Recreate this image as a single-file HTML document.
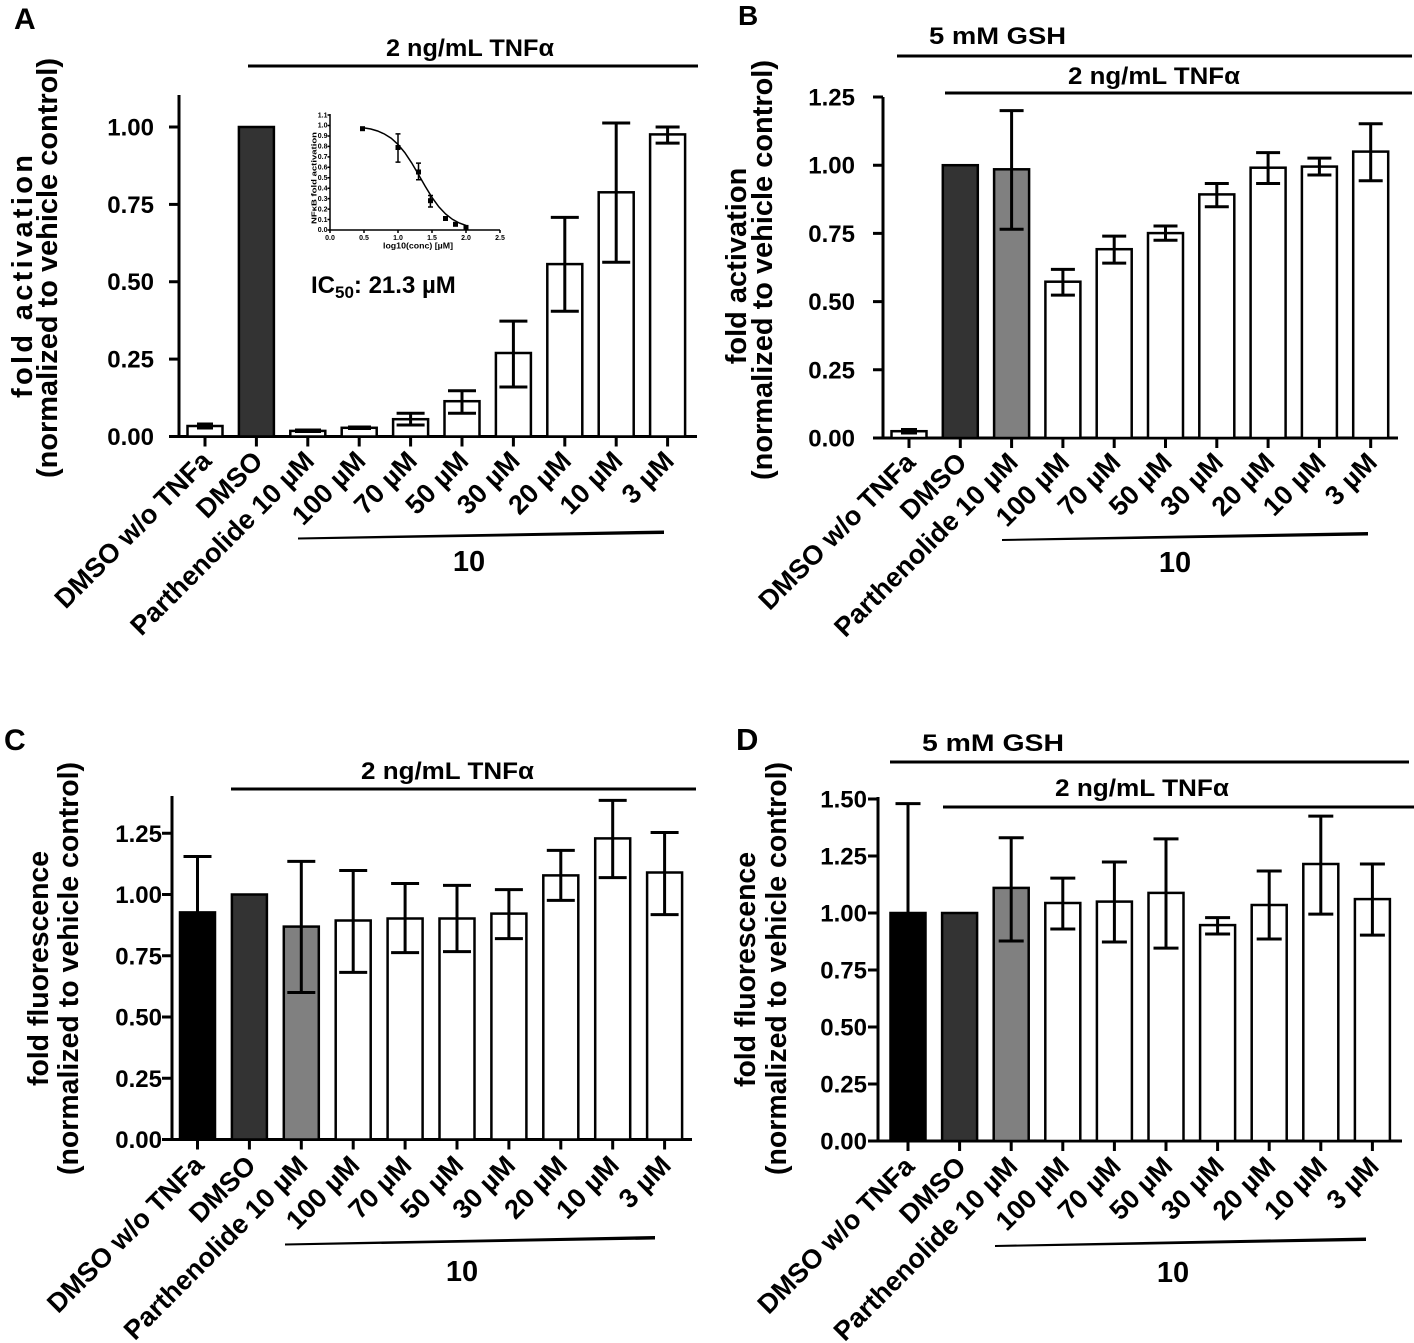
<!DOCTYPE html>
<html><head><meta charset="utf-8"><style>
html,body{margin:0;padding:0;background:#fff;}
svg{display:block;}
text{font-family:"Liberation Sans",Arial,sans-serif;font-weight:bold;fill:#000;}
.ax{stroke:#000;stroke-width:3;fill:none;}
.bar{stroke:#000;stroke-width:2.5;}
.eb{stroke:#000;stroke-width:3;fill:none;}
.tl{font-size:24px;}
.xl{font-size:27px;}
.yt{font-size:29px;}
.hd{font-size:24px;}
.in{stroke:#000;stroke-width:1.5;fill:none;}
.it{font-size:7px;}
</style></head><body>
<svg width="1414" height="1343" viewBox="0 0 1414 1343" xmlns="http://www.w3.org/2000/svg">
<rect width="1414" height="1343" fill="#fff"/>

<!-- ================= PANEL A ================= -->
<text x="14" y="29" font-size="30">A</text>
<text class="hd" x="386" y="56" textLength="168" lengthAdjust="spacingAndGlyphs">2 ng/mL TNFα</text>
<line class="ax" x1="248" y1="66" x2="698" y2="66"/>
<text class="yt" transform="translate(32,398) rotate(-90)" font-size="30" textLength="243" lengthAdjust="spacing">fold activation</text>
<text class="yt" transform="translate(57,478) rotate(-90)" textLength="420" lengthAdjust="spacingAndGlyphs">(normalized to vehicle control)</text>
<!-- axes -->
<line class="ax" x1="179" y1="95" x2="179" y2="438"/>
<line class="ax" x1="177.5" y1="436.5" x2="697" y2="436.5"/>
<g class="ax">
<line x1="169" y1="436.5" x2="179" y2="436.5"/><line x1="169" y1="359.1" x2="179" y2="359.1"/><line x1="169" y1="281.75" x2="179" y2="281.75"/><line x1="169" y1="204.4" x2="179" y2="204.4"/><line x1="169" y1="127" x2="179" y2="127"/>
</g>
<g class="tl" text-anchor="end">
<text x="154" y="445">0.00</text><text x="154" y="367.6">0.25</text><text x="154" y="290.2">0.50</text><text x="154" y="212.9">0.75</text><text x="154" y="135.5">1.00</text>
</g>
<!-- bars -->
<rect class="bar" x="187.5" y="426" width="35" height="10.5" fill="#fff"/>
<rect class="bar" x="238.9" y="127" width="35" height="309.5" fill="#333"/>
<rect class="bar" x="290.3" y="430.9" width="35" height="5.6" fill="#fff"/>
<rect class="bar" x="341.7" y="427.8" width="35" height="8.7" fill="#fff"/>
<rect class="bar" x="393.1" y="419.2" width="35" height="17.3" fill="#fff"/>
<rect class="bar" x="444.5" y="401.2" width="35" height="35.3" fill="#fff"/>
<rect class="bar" x="495.9" y="353" width="35" height="83.5" fill="#fff"/>
<rect class="bar" x="547.3" y="264.1" width="35" height="172.4" fill="#fff"/>
<rect class="bar" x="598.7" y="192.3" width="35" height="244.2" fill="#fff"/>
<rect class="bar" x="650.1" y="134.4" width="35" height="302.1" fill="#fff"/>
<!-- error bars -->
<rect x="197" y="422.5" width="16" height="7" fill="#000"/>
<rect x="295" y="428.5" width="26" height="4.5" fill="#000"/>
<rect x="348" y="425.5" width="23" height="4.5" fill="#000"/>
<g class="eb">
<path d="M410.6 413.3V425M396.6 413.3H424.6M396.6 425H424.6"/>
<path d="M462 390.7V413.3M448 390.7H476M448 413.3H476"/>
<path d="M513.4 321.1V387M499.4 321.1H527.4M499.4 387H527.4"/>
<path d="M564.8 217.4V311.2M550.8 217.4H578.8M550.8 311.2H578.8"/>
<path d="M616.2 123V262.3M602.2 123H630.2M602.2 262.3H630.2"/>
<path d="M667.6 127V143.1M655.6 127H679.6M655.6 143.1H679.6"/>
</g>
<!-- x ticks -->
<g class="ax">
<path d="M205 436.5v10M256.4 436.5v10M307.8 436.5v10M359.2 436.5v10M410.6 436.5v10M462 436.5v10M513.4 436.5v10M564.8 436.5v10M616.2 436.5v10M667.6 436.5v10"/>
</g>
<g class="xl" text-anchor="end">
<text transform="translate(213,462.5) rotate(-45)">DMSO w/o TNFa</text>
<text transform="translate(264.4,462.5) rotate(-45)">DMSO</text>
<text transform="translate(315.8,462.5) rotate(-45)">Parthenolide 10 µM</text>
<text transform="translate(367.2,462.5) rotate(-45)">100 µM</text>
<text transform="translate(418.6,462.5) rotate(-45)">70 µM</text>
<text transform="translate(470,462.5) rotate(-45)">50 µM</text>
<text transform="translate(521.4,462.5) rotate(-45)">30 µM</text>
<text transform="translate(572.8,462.5) rotate(-45)">20 µM</text>
<text transform="translate(624.2,462.5) rotate(-45)">10 µM</text>
<text transform="translate(675.6,462.5) rotate(-45)">3 µM</text>
</g>
<polygon points="298,537.5 664,530.5 664,534 298,539.5" fill="#000"/>
<text x="469" y="571" font-size="29" text-anchor="middle">10</text>

<!-- inset -->
<g>
<line class="in" x1="330" y1="114" x2="330" y2="230.5"/>
<line class="in" x1="329.3" y1="230" x2="500" y2="230"/>
<path class="in" stroke-width="1" d="M327.5 230H330M327.5 219.55H330M327.5 209.1H330M327.5 198.65H330M327.5 188.2H330M327.5 177.75H330M327.5 167.3H330M327.5 156.85H330M327.5 146.4H330M327.5 135.95H330M327.5 125.5H330M327.5 115.05H330"/>
<path class="in" stroke-width="1" d="M330 230v3M364 230v3M398 230v3M432 230v3M466 230v3M500 230v3"/>
<g class="it" text-anchor="end" font-size="6">
<text x="327.5" y="232.2">0.0</text><text x="327.5" y="221.8">0.1</text><text x="327.5" y="211.3">0.2</text><text x="327.5" y="200.9">0.3</text><text x="327.5" y="190.4">0.4</text><text x="327.5" y="180">0.5</text><text x="327.5" y="169.5">0.6</text><text x="327.5" y="159.1">0.7</text><text x="327.5" y="148.6">0.8</text><text x="327.5" y="138.2">0.9</text><text x="327.5" y="127.7">1.0</text><text x="327.5" y="117.3">1.1</text>
</g>
<g class="it" text-anchor="middle">
<text x="330" y="240">0.0</text><text x="364" y="240">0.5</text><text x="398" y="240">1.0</text><text x="432" y="240">1.5</text><text x="466" y="240">2.0</text><text x="500" y="240">2.5</text>
</g>
<text x="418" y="248.5" font-size="8.5" text-anchor="middle" font-weight="normal" textLength="70" lengthAdjust="spacingAndGlyphs">log10(conc) [µM]</text>
<text transform="translate(316.5,224) rotate(-90)" font-size="7.5" font-weight="normal" textLength="92" lengthAdjust="spacingAndGlyphs">NFκB fold activation</text>
<polyline class="in" points="362.4,127.6 370.8,129 377.6,131 384.4,134 391.2,138.2 398,144.4 404.8,152.6 411.6,162.8 418.4,174.4 425.2,186.3 432,197.4 438.8,206.8 445.6,214 452.4,219.3 459.2,223 466,225.5"/>
<g fill="#000">
<rect x="360" y="126.2" width="5" height="5"/>
<rect x="395.5" y="145" width="5" height="5"/>
<rect x="416" y="169.5" width="5" height="5"/>
<rect x="428" y="198.2" width="5" height="5"/>
<rect x="443" y="216" width="5" height="5"/>
<rect x="453" y="221.8" width="5" height="5"/>
<rect x="463.5" y="224.9" width="5" height="5"/>
</g>
<path class="in" stroke-width="1.2" d="M398 133.9V162.1M395.5 133.9H400.5M395.5 162.1H400.5M418.5 163.1V179.8M416 163.1H421M416 179.8H421M430.4 195.5V207M428 195.5H433M428 207H433"/>
</g>
<text x="311" y="293" font-size="24">IC<tspan font-size="17" dy="5">50</tspan><tspan dy="-5">: 21.3 µM</tspan></text>

<!-- ================= PANEL B ================= -->
<text x="738" y="25" font-size="28">B</text>
<text class="hd" x="929" y="44" textLength="137" lengthAdjust="spacingAndGlyphs">5 mM GSH</text>
<line class="ax" x1="897" y1="56" x2="1412" y2="56"/>
<text class="hd" x="1068" y="84" textLength="172" lengthAdjust="spacingAndGlyphs">2 ng/mL TNFα</text>
<line class="ax" x1="945" y1="93" x2="1412" y2="93"/>
<text class="yt" transform="translate(746,266) rotate(-90)" text-anchor="middle">fold activation</text>
<text class="yt" transform="translate(772,480) rotate(-90)" textLength="420" lengthAdjust="spacingAndGlyphs">(normalized to vehicle control)</text>
<line class="ax" x1="883" y1="97" x2="883" y2="439.5"/>
<line class="ax" x1="881.5" y1="438" x2="1398" y2="438"/>
<path class="ax" d="M873 438H883M873 369.8H883M873 301.6H883M873 233.4H883M873 165.2H883M873 97H883"/>
<g class="tl" text-anchor="end">
<text x="855" y="446.5">0.00</text><text x="855" y="378.3">0.25</text><text x="855" y="310.1">0.50</text><text x="855" y="241.9">0.75</text><text x="855" y="173.7">1.00</text><text x="855" y="105.5">1.25</text>
</g>
<rect class="bar" x="891.5" y="431.2" width="35" height="6.8" fill="#fff"/>
<rect class="bar" x="942.8" y="165.2" width="35" height="272.8" fill="#333"/>
<rect class="bar" x="994.1" y="169.3" width="35" height="268.7" fill="#808080"/>
<rect class="bar" x="1045.4" y="281.7" width="35" height="156.3" fill="#fff"/>
<rect class="bar" x="1096.7" y="249.2" width="35" height="188.8" fill="#fff"/>
<rect class="bar" x="1148" y="233.1" width="35" height="204.9" fill="#fff"/>
<rect class="bar" x="1199.3" y="194.4" width="35" height="243.6" fill="#fff"/>
<rect class="bar" x="1250.6" y="167.7" width="35" height="270.3" fill="#fff"/>
<rect class="bar" x="1301.9" y="166.6" width="35" height="271.4" fill="#fff"/>
<rect class="bar" x="1353.2" y="151.6" width="35" height="286.4" fill="#fff"/>
<rect x="901" y="428" width="16" height="6.5" fill="#000"/>
<g class="eb">
<path d="M1011.6 110.6V229.3M999.6 110.6H1023.6M999.6 229.3H1023.6"/>
<path d="M1062.9 269.4V295.1M1050.9 269.4H1074.9M1050.9 295.1H1074.9"/>
<path d="M1114.2 236.1V263.1M1102.2 236.1H1126.2M1102.2 263.1H1126.2"/>
<path d="M1165.5 226V240.2M1153.5 226H1177.5M1153.5 240.2H1177.5"/>
<path d="M1216.8 183.5V206.7M1204.8 183.5H1228.8M1204.8 206.7H1228.8"/>
<path d="M1268.1 152.6V183.5M1256.1 152.6H1280.1M1256.1 183.5H1280.1"/>
<path d="M1319.4 158.1V175M1307.4 158.1H1331.4M1307.4 175H1331.4"/>
<path d="M1370.7 123.7V180.7M1358.7 123.7H1382.7M1358.7 180.7H1382.7"/>
</g>
<path class="ax" d="M909 438v10M960.3 438v10M1011.6 438v10M1062.9 438v10M1114.2 438v10M1165.5 438v10M1216.8 438v10M1268.1 438v10M1319.4 438v10M1370.7 438v10"/>
<g class="xl" text-anchor="end">
<text transform="translate(917,464) rotate(-45)">DMSO w/o TNFa</text>
<text transform="translate(968.3,464) rotate(-45)">DMSO</text>
<text transform="translate(1019.6,464) rotate(-45)">Parthenolide 10 µM</text>
<text transform="translate(1070.9,464) rotate(-45)">100 µM</text>
<text transform="translate(1122.2,464) rotate(-45)">70 µM</text>
<text transform="translate(1173.5,464) rotate(-45)">50 µM</text>
<text transform="translate(1224.8,464) rotate(-45)">30 µM</text>
<text transform="translate(1276.1,464) rotate(-45)">20 µM</text>
<text transform="translate(1327.4,464) rotate(-45)">10 µM</text>
<text transform="translate(1378.7,464) rotate(-45)">3 µM</text>
</g>
<polygon points="1002,539 1368,532 1368,535.5 1002,541" fill="#000"/>
<text x="1175" y="572" font-size="29" text-anchor="middle">10</text>

<!-- ================= PANEL C ================= -->
<text x="4" y="750" font-size="30">C</text>
<text class="hd" x="361" y="779" textLength="173" lengthAdjust="spacingAndGlyphs">2 ng/mL TNFα</text>
<line class="ax" x1="231" y1="789" x2="696" y2="789"/>
<text class="yt" transform="translate(48,1086) rotate(-90)" textLength="235" lengthAdjust="spacingAndGlyphs">fold fluorescence</text>
<text class="yt" transform="translate(78,1175) rotate(-90)" textLength="413" lengthAdjust="spacingAndGlyphs">(normalized to vehicle control)</text>
<line class="ax" x1="172" y1="796" x2="172" y2="1141"/>
<line class="ax" x1="170.5" y1="1139.5" x2="692" y2="1139.5"/>
<path class="ax" d="M162 1139.5H172M162 1078.25H172M162 1017H172M162 955.75H172M162 894.5H172M162 833.25H172"/>
<g class="tl" text-anchor="end">
<text x="162" y="1148">0.00</text><text x="162" y="1086.8">0.25</text><text x="162" y="1025.5">0.50</text><text x="162" y="964.3">0.75</text><text x="162" y="903">1.00</text><text x="162" y="841.8">1.25</text>
</g>
<rect class="bar" x="180" y="912.4" width="35" height="227.1" fill="#000"/>
<rect class="bar" x="231.9" y="894.5" width="35" height="245" fill="#333"/>
<rect class="bar" x="283.8" y="926.6" width="35" height="212.9" fill="#808080"/>
<rect class="bar" x="335.7" y="920.5" width="35" height="219" fill="#fff"/>
<rect class="bar" x="387.6" y="918.5" width="35" height="221" fill="#fff"/>
<rect class="bar" x="439.5" y="918.5" width="35" height="221" fill="#fff"/>
<rect class="bar" x="491.4" y="913.6" width="35" height="225.9" fill="#fff"/>
<rect class="bar" x="543.3" y="875.4" width="35" height="264.1" fill="#fff"/>
<rect class="bar" x="595.2" y="838.4" width="35" height="301.1" fill="#fff"/>
<rect class="bar" x="647.1" y="872.5" width="35" height="267" fill="#fff"/>
<g class="eb">
<path d="M197.5 856.5V912.4M183.5 856.5H211.5"/>
<path d="M301.3 861.4V992.5M287.3 861.4H315.3M287.3 992.5H315.3"/>
<path d="M353.2 870.5V972.4M339.2 870.5H367.2M339.2 972.4H367.2"/>
<path d="M405.1 883.5V952.6M391.1 883.5H419.1M391.1 952.6H419.1"/>
<path d="M457 885.4V951.6M443 885.4H471M443 951.6H471"/>
<path d="M508.9 889.6V938.6M494.9 889.6H522.9M494.9 938.6H522.9"/>
<path d="M560.8 850.4V900.4M546.8 850.4H574.8M546.8 900.4H574.8"/>
<path d="M612.7 800.4V877.6M598.7 800.4H626.7M598.7 877.6H626.7"/>
<path d="M664.6 832.5V914.6M650.6 832.5H678.6M650.6 914.6H678.6"/>
</g>
<path class="ax" d="M197.5 1139.5v10M249.4 1139.5v10M301.3 1139.5v10M353.2 1139.5v10M405.1 1139.5v10M457 1139.5v10M508.9 1139.5v10M560.8 1139.5v10M612.7 1139.5v10M664.6 1139.5v10"/>
<g class="xl" text-anchor="end">
<text transform="translate(205.5,1167) rotate(-45)">DMSO w/o TNFa</text>
<text transform="translate(257.4,1167) rotate(-45)">DMSO</text>
<text transform="translate(309.3,1167) rotate(-45)">Parthenolide 10 µM</text>
<text transform="translate(361.2,1167) rotate(-45)">100 µM</text>
<text transform="translate(413.1,1167) rotate(-45)">70 µM</text>
<text transform="translate(465,1167) rotate(-45)">50 µM</text>
<text transform="translate(516.9,1167) rotate(-45)">30 µM</text>
<text transform="translate(568.8,1167) rotate(-45)">20 µM</text>
<text transform="translate(620.7,1167) rotate(-45)">10 µM</text>
<text transform="translate(672.6,1167) rotate(-45)">3 µM</text>
</g>
<polygon points="285,1243.5 655,1236 655,1239.5 285,1245.5" fill="#000"/>
<text x="462" y="1281" font-size="29" text-anchor="middle">10</text>

<!-- ================= PANEL D ================= -->
<text x="736" y="750" font-size="31">D</text>
<text class="hd" x="922" y="751" textLength="142" lengthAdjust="spacingAndGlyphs">5 mM GSH</text>
<line class="ax" x1="890" y1="762" x2="1409" y2="762"/>
<text class="hd" x="1055" y="796" textLength="174" lengthAdjust="spacingAndGlyphs">2 ng/mL TNFα</text>
<line class="ax" x1="943" y1="807" x2="1414" y2="807"/>
<text class="yt" transform="translate(755,1087) rotate(-90)" textLength="235" lengthAdjust="spacingAndGlyphs">fold fluorescence</text>
<text class="yt" transform="translate(786,1175) rotate(-90)" textLength="413" lengthAdjust="spacingAndGlyphs">(normalized to vehicle control)</text>
<line class="ax" x1="878" y1="797" x2="878" y2="1142.5"/>
<line class="ax" x1="876.5" y1="1141" x2="1402" y2="1141"/>
<path class="ax" d="M868 1141H878M868 1084H878M868 1027H878M868 970H878M868 913H878M868 856H878M868 799H878"/>
<g class="tl" text-anchor="end">
<text x="867" y="1149.5">0.00</text><text x="867" y="1092.5">0.25</text><text x="867" y="1035.5">0.50</text><text x="867" y="978.5">0.75</text><text x="867" y="921.5">1.00</text><text x="867" y="864.5">1.25</text><text x="867" y="807.5">1.50</text>
</g>
<rect class="bar" x="890.5" y="913" width="35" height="228" fill="#000"/>
<rect class="bar" x="942.1" y="913" width="35" height="228" fill="#333"/>
<rect class="bar" x="993.7" y="887.9" width="35" height="253.1" fill="#808080"/>
<rect class="bar" x="1045.3" y="903" width="35" height="238" fill="#fff"/>
<rect class="bar" x="1096.9" y="901.6" width="35" height="239.4" fill="#fff"/>
<rect class="bar" x="1148.5" y="892.9" width="35" height="248.1" fill="#fff"/>
<rect class="bar" x="1200.1" y="925.1" width="35" height="215.9" fill="#fff"/>
<rect class="bar" x="1251.7" y="905" width="35" height="236" fill="#fff"/>
<rect class="bar" x="1303.3" y="864" width="35" height="277" fill="#fff"/>
<rect class="bar" x="1354.9" y="899.1" width="35" height="241.9" fill="#fff"/>
<g class="eb">
<path d="M908 803.6V913M895.5 803.6H920.5"/>
<path d="M1011.2 837.8V941M998.7 837.8H1023.7M998.7 941H1023.7"/>
<path d="M1062.8 878.1V929M1050.3 878.1H1075.3M1050.3 929H1075.3"/>
<path d="M1114.4 862V942M1101.9 862H1126.9M1101.9 942H1126.9"/>
<path d="M1166 838.9V948.1M1153.5 838.9H1178.5M1153.5 948.1H1178.5"/>
<path d="M1217.6 917.6V934M1205.1 917.6H1230.1M1205.1 934H1230.1"/>
<path d="M1269.2 871V939M1256.7 871H1281.7M1256.7 939H1281.7"/>
<path d="M1320.8 816.1V914.1M1308.3 816.1H1333.3M1308.3 914.1H1333.3"/>
<path d="M1372.4 864V935.1M1359.9 864H1384.9M1359.9 935.1H1384.9"/>
</g>
<path class="ax" d="M908 1141v10M959.6 1141v10M1011.2 1141v10M1062.8 1141v10M1114.4 1141v10M1166 1141v10M1217.6 1141v10M1269.2 1141v10M1320.8 1141v10M1372.4 1141v10"/>
<g class="xl" text-anchor="end">
<text transform="translate(916,1168) rotate(-45)">DMSO w/o TNFa</text>
<text transform="translate(967.6,1168) rotate(-45)">DMSO</text>
<text transform="translate(1019.2,1168) rotate(-45)">Parthenolide 10 µM</text>
<text transform="translate(1070.8,1168) rotate(-45)">100 µM</text>
<text transform="translate(1122.4,1168) rotate(-45)">70 µM</text>
<text transform="translate(1174,1168) rotate(-45)">50 µM</text>
<text transform="translate(1225.6,1168) rotate(-45)">30 µM</text>
<text transform="translate(1277.2,1168) rotate(-45)">20 µM</text>
<text transform="translate(1328.8,1168) rotate(-45)">10 µM</text>
<text transform="translate(1380.4,1168) rotate(-45)">3 µM</text>
</g>
<polygon points="995,1245 1366,1237.5 1366,1241 995,1247" fill="#000"/>
<text x="1173" y="1282" font-size="29" text-anchor="middle">10</text>
</svg>
</body></html>
